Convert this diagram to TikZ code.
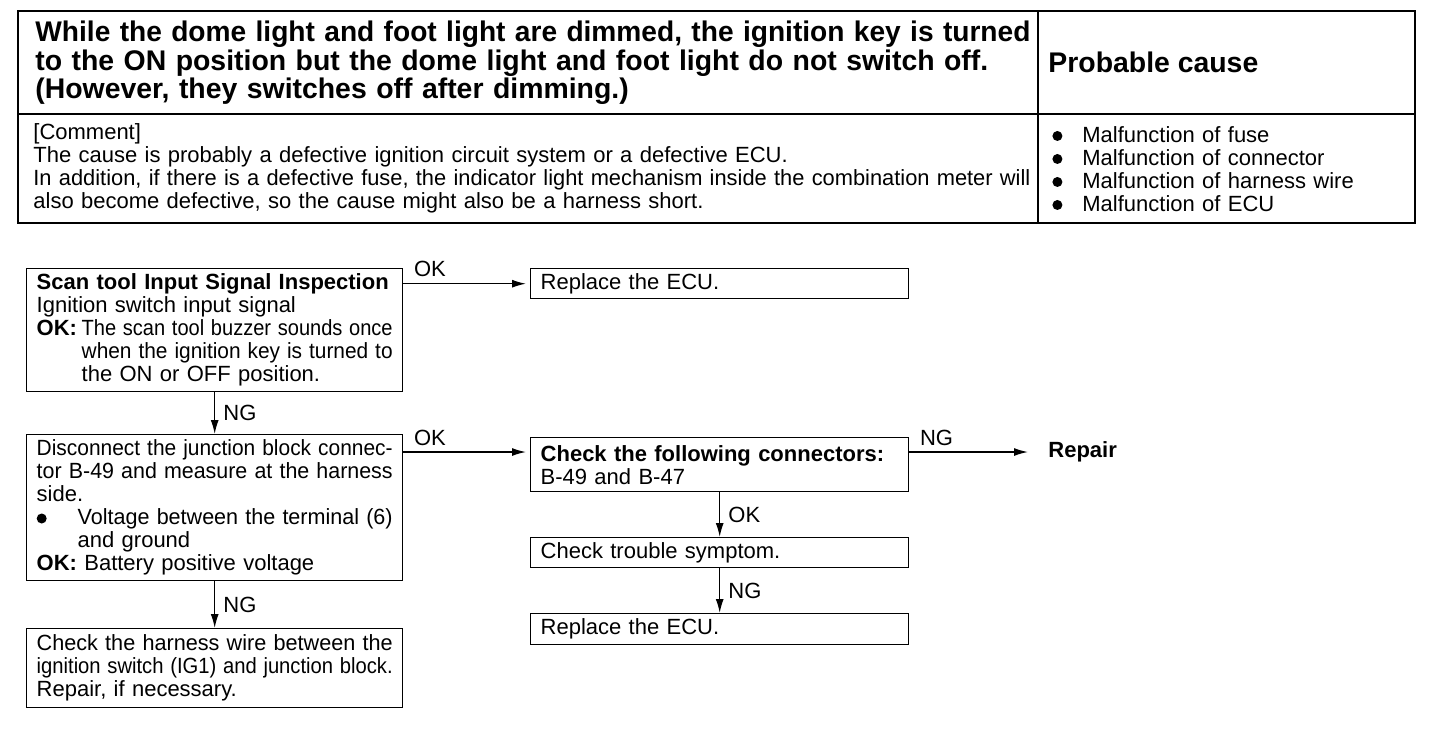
\documentclass[tikz,border=0pt]{standalone}
\usepackage{fontspec}
\setmainfont{Liberation Sans}
\usepackage{graphicx}
\usetikzlibrary{arrows.meta,calc}

\newcommand{\titlefont}{\fontsize{14.2}{14.2}\selectfont\bfseries}
\newcommand{\bodyfont}{\fontsize{11}{11.5}\selectfont}
\newsavebox{\linebox}
% set a line to exactly the given width (stretch spaces or squeeze glyphs)
\newcommand{\fullline}[2]{\sbox{\linebox}{#2}\ifdim\wd\linebox>#1\relax\resizebox{#1}{\height}{\usebox{\linebox}}\else\makebox[#1][s]{#2}\fi}
\newcommand{\bulletmark}{\tikz[baseline=-3.2pt]\fill (0,0) circle (2.5pt);}
\setlength{\parindent}{0pt}

\tikzset{
  stepbox/.style={draw, line width=0.7pt, anchor=north west, inner xsep=5pt, inner ysep=0pt, font=\bodyfont, align=left},
  flowarrow/.style={-{Latex[length=7pt,width=4pt]}, line width=0.7pt},
  lbl/.style={font=\bodyfont, inner sep=1pt}
}

\begin{document}
\begin{tikzpicture}[x=0.5pt,y=-0.5pt]
		\useasboundingbox (0,0) rectangle (1456,730);
		% Trouble symptom table
		\draw[line width=1.2pt] (18,11) rectangle (1415,223);
		\draw[line width=1.2pt] (18,114) -- (1415,114);
		\draw[line width=1pt] (1038,11) -- (1038,223);
		\node[anchor=west, inner sep=0pt, text width=497.5pt, align=left, font=\titlefont] (symptom) at (35,63)
			{\fullline{497.5pt}{While the dome light and foot light are dimmed, the ignition key is turned}\\
			 \fullline{497.5pt}{to the ON position but the dome light and foot light do not switch off.}\\
			 (However, they switches off after dimming.)};
		\node[anchor=west, inner sep=0pt, font=\titlefont] (cause) at (1048,62.5) {Probable cause};
		\node[anchor=west, inner sep=0pt, text width=498.5pt, align=left, font=\bodyfont] (comment) at (33,168)
			{[Comment]\\
			 The cause is probably a defective ignition circuit system or a defective ECU.\\
			 \fullline{498.5pt}{In addition, if there is a defective fuse, the indicator light mechanism inside the combination meter will}\\
			 also become defective, so the cause might also be a harness short.};
		\node[anchor=west, inner sep=0pt, text width=170pt, align=left, font=\bodyfont] (causes) at (1052,169)
			{\makebox[15pt][l]{\bulletmark}Malfunction of fuse\\
			 \makebox[15pt][l]{\bulletmark}Malfunction of connector\\
			 \makebox[15pt][l]{\bulletmark}Malfunction of harness wire\\
			 \makebox[15pt][l]{\bulletmark}Malfunction of ECU};

		% Flow chart
		\node[stepbox, text width=178pt, minimum height=61.5pt] (scan) at (26,268)
			{\textbf{Scan tool Input Signal Inspection}\\
			 Ignition switch input signal\\
			 \makebox[22.5pt][l]{\textbf{OK:}}\fullline{155.5pt}{The scan tool buzzer sounds once}\\
			 \hspace*{22.5pt}\fullline{155.5pt}{when the ignition key is turned to}\\
			 \hspace*{22.5pt}the ON or OFF position.};
		\node[stepbox, text width=179pt, minimum height=15pt] (ecuA) at (530,268) {Replace the ECU.};
		\node[stepbox, text width=178pt, minimum height=73pt] (volt) at (26,434)
			{\fullline{178pt}{Disconnect the junction block connec-}\\
			 \fullline{178pt}{tor B-49 and measure at the harness}\\
			 side.\\
			 \makebox[20.5pt][l]{\bulletmark}\fullline{157.5pt}{Voltage between the terminal (6)}\\
			 \hspace*{20.5pt}and ground\\
			 \textbf{OK:} Battery positive voltage};
		\node[stepbox, text width=179pt, minimum height=27pt] (conn) at (530,437)
			{\textbf{Check the following connectors:}\\
			 B-49 and B-47};
		\node[anchor=west, inner sep=2pt, font=\bodyfont\bfseries] (repair) at (1044,452) {Repair};
		\node[stepbox, text width=179pt, minimum height=15pt] (trouble) at (530,537) {Check trouble symptom.};
		\node[stepbox, text width=179pt, minimum height=15.5pt] (ecuB) at (530,613) {Replace the ECU.};
		\node[stepbox, text width=178pt, minimum height=39.5pt] (harness) at (26,628)
			{\fullline{178pt}{Check the harness wire between the}\\
			 \fullline{178pt}{ignition switch (IG1) and junction block.}\\
			 Repair, if necessary.};

		\coordinate (conn-in) at ($(conn.north west)+(0,15)$);
		\draw[flowarrow, shorten >=2pt] (scan.east |- ecuA.west) -- node[lbl, pos=0, anchor=south west, xshift=4pt, yshift=2pt] {OK} (ecuA.west);
		\draw[flowarrow] (scan) -- node[lbl, right, xshift=3pt] {NG} (volt);
		\draw[flowarrow, shorten >=2pt] (volt.east |- conn-in) -- node[lbl, pos=0, anchor=south west, xshift=4pt, yshift=2pt] {OK} (conn-in);
		\draw[flowarrow, shorten >=8pt] (conn.east |- repair.west) -- node[lbl, pos=0, anchor=south west, xshift=4pt, yshift=2pt] {NG} (repair.west);
		\draw[flowarrow] (conn) -- node[lbl, right, xshift=3pt] {OK} (trouble);
		\draw[flowarrow] (trouble) -- node[lbl, right, xshift=3pt] {NG} (ecuB);
		\draw[flowarrow] (volt) -- node[lbl, right, xshift=3pt] {NG} (harness);
\end{tikzpicture}
\end{document}
